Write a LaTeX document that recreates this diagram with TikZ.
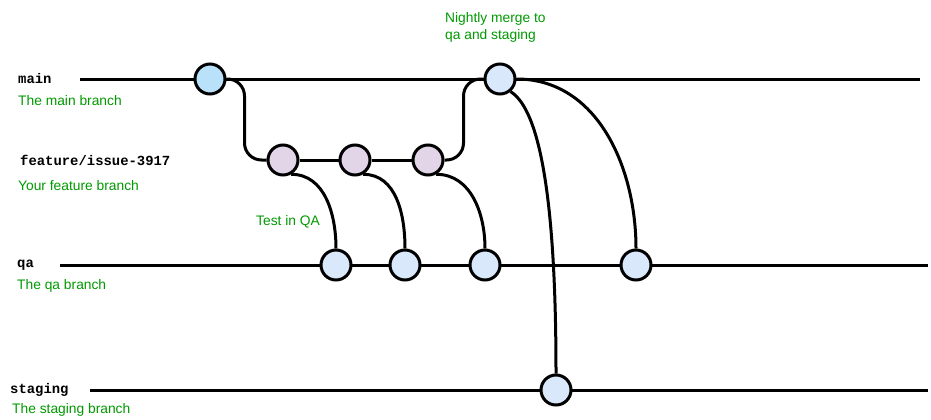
\documentclass[tikz,border=0pt]{standalone}
\usepackage{fontspec}
\setmainfont{Liberation Sans}
\newfontfamily\codefont{Liberation Mono}
\usetikzlibrary{backgrounds}
\definecolor{mainfill}{HTML}{BAE1FA}
\definecolor{bluefill}{HTML}{DAE8FC}
\definecolor{purplefill}{HTML}{E1D5E7}
\definecolor{labelgreen}{HTML}{009900}
\tikzset{
  commit/.style={circle, draw=black, line width=3pt, minimum size=30pt, inner sep=0pt, fill=bluefill},
  featcommit/.style={commit, fill=purplefill},
  branchline/.style={line width=3pt},
  conn/.style={line width=3pt},
  branchname/.style={anchor=west, inner sep=0pt, font=\codefont\bfseries\fontsize{13.9}{15}\selectfont},
  note/.style={anchor=west, inner sep=0pt, text=labelgreen, font=\fontsize{13.8}{17}\selectfont},
}
\begin{document}
\begin{tikzpicture}[x=1pt,y=1pt]
\useasboundingbox (0,0) rectangle (931,-420);

% commits
\node[commit, fill=mainfill] (A) at (210,-79) {};
\node[commit] (B) at (500,-79) {};
\node[featcommit] (F1) at (283,-160) {};
\node[featcommit] (F2) at (355,-160) {};
\node[featcommit] (F3) at (428,-160) {};
\node[commit] (Q1) at (336,-265) {};
\node[commit] (Q2) at (405,-265) {};
\node[commit] (Q3) at (485,-265) {};
\node[commit] (Q4) at (636,-265) {};
\node[commit] (S) at (556,-390) {};

% line ends
\coordinate (mainL) at (80,-79);
\coordinate (mainR) at (920,-79);
\coordinate (qaL) at (60,-265);
\coordinate (qaR) at (928,-265);
\coordinate (stL) at (90,-390);
\coordinate (stR) at (928,-390);

\begin{scope}[on background layer]
  \draw[branchline] (mainL) -- (mainR);
  \draw[branchline] (qaL) -- (qaR);
  \draw[branchline] (stL) -- (stR);
  \draw[branchline] (F1) -- (F2) -- (F3);
  \draw[conn, rounded corners=17pt] (A.east) -- ++(18,0) |- (F1.west);
  \draw[conn, rounded corners=17pt] (F3.east) -- ++(19,0) |- (B.west);
  \draw[conn] (F1.-60) to[out=0,in=90] (Q1.north);
  \draw[conn] (F2.-60) to[out=0,in=90] (Q2.north);
  \draw[conn] (F3.-60) to[out=0,in=90] (Q3.north);
  \draw[conn] (B.-50) .. controls (540,-110) and (556,-200) .. (S.north);
  \draw[conn] (B.east) to[out=0,in=90] (Q4.north);
\end{scope}

% labels
\node[branchname] (lmain) at (18,-79) {main};
\node[note] (nmain) at (18,-101) {The main branch};
\node[branchname] (lfeat) at (20,-160) {feature/issue-3917};
\node[note] (nfeat) at (18,-186) {Your feature branch};
\node[branchname] (lqa) at (17,-265) {qa};
\node[note] (nqa) at (17,-286) {The qa branch};
\node[branchname] (lst) at (10,-390) {staging};
\node[note] (nst) at (12,-410) {The staging branch};
\node[note, anchor=center] (ntest) at (288,-222) {Test in QA};
\node[note, align=left] (nnight) at (445,-27) {Nightly merge to\\qa and staging};
\end{tikzpicture}
\end{document}
